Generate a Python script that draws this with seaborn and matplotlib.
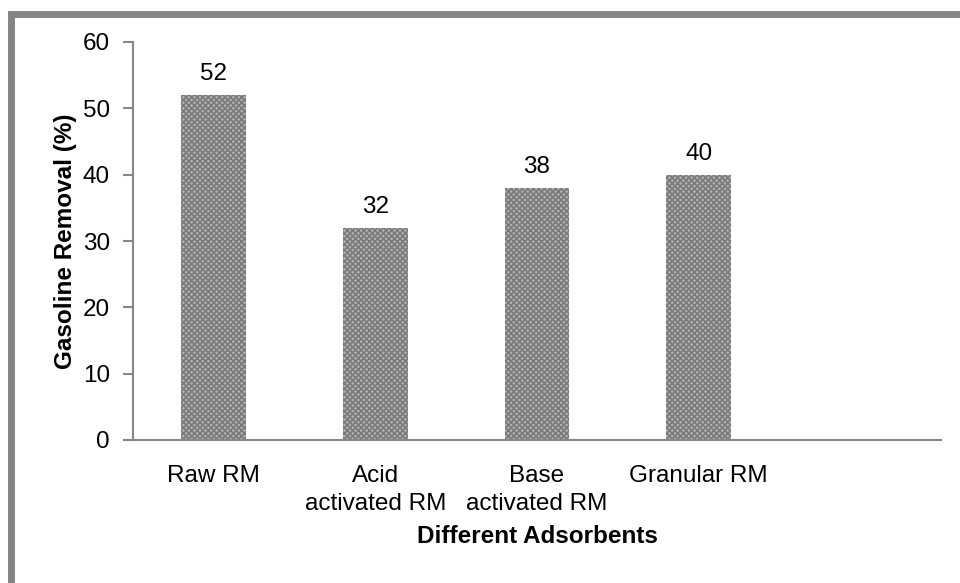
import matplotlib
matplotlib.use("Agg")
import matplotlib.pyplot as plt
import seaborn as sns
import pandas as pd
import numpy as np
from matplotlib.patches import Rectangle

categories = ["Raw RM", "Acid\nactivated RM", "Base\nactivated RM", "Granular RM"]
removal = [52, 32, 38, 40]
yticks = [0, 10, 20, 30, 40, 50, 60]

sns.set_theme(style="white")
plt.rcParams['font.family'] = ['Liberation Sans', 'DejaVu Sans']
plt.rcParams['hatch.linewidth'] = 1.2
plt.rcParams['text.color'] = 'black'
plt.rcParams['xtick.color'] = 'black'
plt.rcParams['ytick.color'] = 'black'
plt.rcParams['axes.labelcolor'] = 'black'

FS = 17.5

df = pd.DataFrame({"cat": categories, "val": removal})

fig = plt.figure(figsize=(9.6, 5.83), dpi=100)
ax = fig.add_axes([133/960, 1-440/583, (941-133)/960, (440-42)/583])

sns.barplot(data=df, x="cat", y="val", ax=ax, color="#b4b4b4", width=0.4,
            saturation=1, linewidth=0)
for p in ax.patches:
    p.set_hatch("xxxxxx")
    p.set_edgecolor("#7a7a7a")
    p.set_linewidth(0)

for c in ax.containers:
    ax.bar_label(c, labels=[f"{v:g}" for v in removal], padding=7, fontsize=FS, color="black")

ax.set_xlim(-0.5, 4.5)
ax.set_ylim(0, 60)
ax.set_yticks(yticks)
ax.set_yticklabels([str(t) for t in yticks], fontsize=FS)
ax.set_xticks(range(len(categories)))
ax.set_xticklabels(categories, fontsize=FS, linespacing=1.37)
ax.set_xticks(np.arange(-0.5, 4.6, 1.0), minor=True)
ax.tick_params(axis="x", which="major", length=0, pad=18)
ax.tick_params(axis="x", which="minor", length=7, width=1.5, color="#878787", direction="out")
ax.tick_params(axis="y", length=7, width=1.5, color="#878787", direction="out", pad=9.5, left=True)

for s in ["top", "right"]:
    ax.spines[s].set_visible(False)
for s in ["left", "bottom"]:
    ax.spines[s].set_color("#878787")
    ax.spines[s].set_linewidth(1.5)

ax.set_xlabel("Different Adsorbents", fontsize=FS, fontweight="bold", labelpad=7)
ax.set_ylabel("Gasoline Removal (%)", fontsize=FS, fontweight="bold", labelpad=4)

# outer gray frame (extends beyond right/bottom)
fig.add_artist(Rectangle((10.5/960, -0.2), 1.3, 1 - 13.5/583 + 0.2,
                         transform=fig.transFigure, fill=False,
                         edgecolor="#858585", linewidth=5.0, clip_on=False))

fig.savefig("out.png", dpi=100)
